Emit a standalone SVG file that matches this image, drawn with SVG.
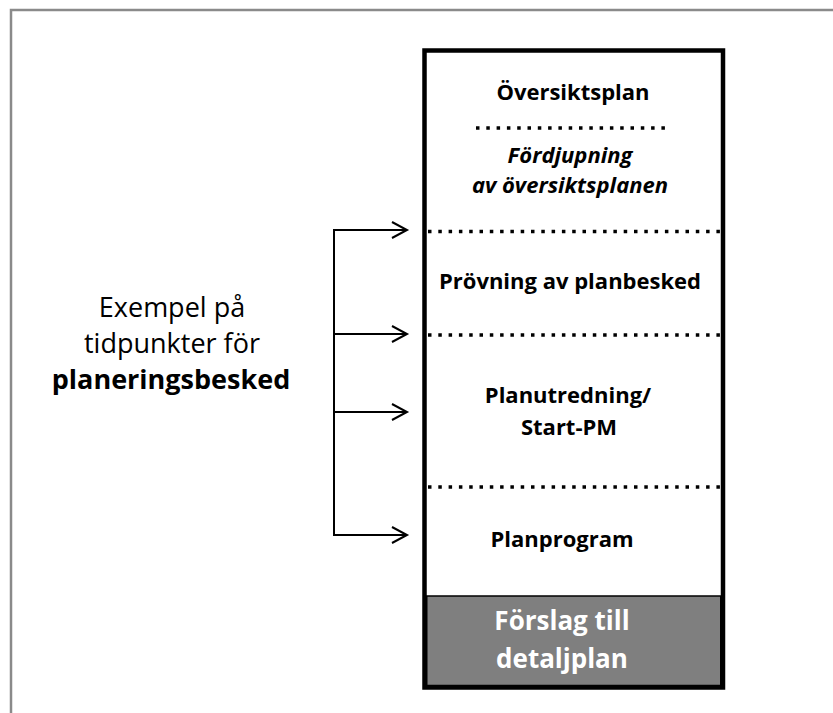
<svg xmlns="http://www.w3.org/2000/svg" width="833" height="713" viewBox="0 0 833 713">
  <style>
    .frame { fill: none; stroke: #8a8a8a; stroke-width: 2.5; }
    .box { fill: #ffffff; stroke: #000000; stroke-width: 4.5; }
    .dots { stroke: #000000; stroke-width: 3.5; stroke-dasharray: 3.5 6.8; fill: none; }
    .lbl { font-family: "Open Sans", "Liberation Sans", sans-serif; font-weight: bold; font-size: 22px; fill: #000000; text-anchor: middle; }
    .it { font-style: italic; }
    .white { fill: #ffffff; font-size: 26px; }
    .side { font-family: "Open Sans", "Liberation Sans", sans-serif; font-size: 27px; fill: #000000; text-anchor: middle; }
    .conn { stroke: #000000; stroke-width: 2; fill: none; }
  </style>
  <defs>
    <marker id="chev" markerUnits="userSpaceOnUse" markerWidth="20" markerHeight="20" refX="17" refY="10" orient="auto">
      <path d="M2,2 L17,10 L2,18" fill="none" stroke="#000000" stroke-width="2"/>
    </marker>
  </defs>

  <rect width="833" height="713" fill="#ffffff"/>
  <!-- outer frame: top and left edges only -->
  <path class="frame" d="M11,713 L11,10 L833,10"/>

  <!-- planning stage column -->
  <g id="column">
    <rect class="box" x="424.5" y="50.5" width="298.5" height="637"/>
  </g>

  <g id="oversiktsplan">
    <text class="lbl" x="573" y="100">Översiktsplan</text>
    <line class="dots" x1="476" y1="128" x2="670" y2="128"/>
    <text class="lbl it" x="570" y="163">Fördjupning</text>
    <text class="lbl it" x="570" y="193">av översiktsplanen</text>
  </g>

  <g id="provning">
    <line class="dots" x1="428" y1="231.5" x2="722" y2="231.5"/>
    <text class="lbl" x="570" y="289">Prövning av planbesked</text>
  </g>

  <g id="planutredning">
    <line class="dots" x1="428" y1="335" x2="722" y2="335"/>
    <text class="lbl" x="568" y="403">Planutredning/</text>
    <text class="lbl" x="569" y="435">Start-PM</text>
  </g>

  <g id="planprogram">
    <line class="dots" x1="428" y1="487" x2="722" y2="487"/>
    <text class="lbl" x="562" y="547">Planprogram</text>
  </g>

  <g id="forslag">
    <rect x="426.75" y="596" width="294" height="89.5" fill="#7f7f7f" stroke="#000000" stroke-width="1.5"/>
    <text class="lbl white" x="562" y="630">Förslag till</text>
    <text class="lbl white" x="562" y="668">detaljplan</text>
  </g>

  <g id="exempel">
    <text class="side" x="172" y="317">Exempel på</text>
    <text class="side" x="172" y="353">tidpunkter för</text>
    <text class="side" x="171" y="389" font-weight="bold">planeringsbesked</text>
  </g>

  <g id="connectors">
    <path class="conn" d="M334,229 L334,536"/>
    <path class="conn" d="M333,230 L407,230" marker-end="url(#chev)"/>
    <path class="conn" d="M334,334 L407,334" marker-end="url(#chev)"/>
    <path class="conn" d="M334,412 L407,412" marker-end="url(#chev)"/>
    <path class="conn" d="M333,535 L407,535" marker-end="url(#chev)"/>
  </g>
</svg>
